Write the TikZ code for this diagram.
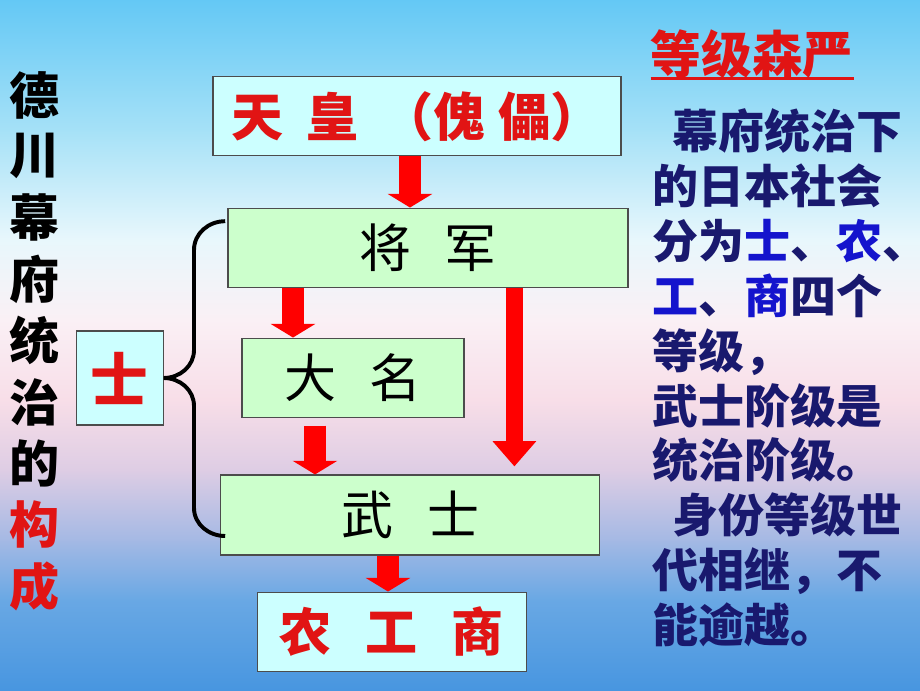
\documentclass[tikz,border=0pt]{standalone}
\usepackage{fontspec}
\newfontfamily\cjk{Noto Sans CJK SC}
\usetikzlibrary{arrows.meta,positioning}

\definecolor{bg0}{RGB}{72,150,224}
\definecolor{bg1}{RGB}{105,168,228}
\definecolor{bg2}{RGB}{165,185,228}
\definecolor{bg3}{RGB}{222,205,228}
\definecolor{bg4}{RGB}{248,222,232}
\definecolor{bg5}{RGB}{250,240,245}
\definecolor{bg6}{RGB}{232,247,252}
\definecolor{bg7}{RGB}{165,225,247}
\definecolor{bg8}{RGB}{100,200,245}
\definecolor{boxcyan}{RGB}{204,255,255}
\definecolor{boxgreen}{RGB}{204,255,204}
\definecolor{titlered}{RGB}{225,20,20}
\definecolor{navy}{RGB}{25,25,110}
\definecolor{accblue}{RGB}{20,20,205}

\begin{document}
\begin{tikzpicture}[
  box/.style={draw=black!70,line width=0.8pt,inner sep=0pt,
    font=\cjk\fontsize{37}{37}\selectfont},
  cyanbox/.style={box,fill=boxcyan},
  greenbox/.style={box,fill=boxgreen},
  redtext/.style={text=titlered,font=\cjk\bfseries\fontsize{37}{37}\selectfont},
  fat/.style={red,line width=0.55cm,-{Triangle[width=1.1cm,length=0.34cm]}},
  brace/.style={line width=2.8pt},
  side/.style={inner sep=0pt,font=\cjk\bfseries\fontsize{35.6}{35.6}\selectfont},
  desc/.style={inner sep=0pt,align=left,text=navy,
    font=\cjk\bfseries\fontsize{32.7}{39.1}\selectfont}]
\useasboundingbox (0,0) rectangle (23,17.25);

% Background
\foreach \ya/\yb/\ca/\cb in {0/2.25/bg0/bg1,2.25/3.75/bg1/bg2,3.75/5.5/bg2/bg3,
  5.5/7.25/bg3/bg4,7.25/9.25/bg4/bg5,9.25/11.25/bg5/bg6,11.25/14/bg6/bg7,14/17.25/bg7/bg8}{
  \shade[bottom color=\ca,top color=\cb] (0,\ya) rectangle (23,\yb+0.02);
}

% Ranks
\node[cyanbox,redtext,minimum width=10.2cm,minimum height=1.975cm] (emperor) at (10.425,14.34)
  {天\hspace{0.45em}皇\hspace{0.45em}（傀\hspace{0.25em}儡）};
\node[greenbox,minimum width=10cm,minimum height=1.975cm] (shogun) at (10.7,11.06)
  {将\hspace{0.65em}军};
\node[greenbox,minimum width=5.55cm,minimum height=1.975cm] (daimyo) at (8.825,7.81)
  {大\hspace{0.65em}名};
\node[greenbox,minimum width=9.475cm,minimum height=2cm] (samurai) at (10.26,4.375)
  {武\hspace{0.65em}士};
\node[cyanbox,redtext,minimum width=6.725cm,minimum height=1.975cm] (commoners) at (9.79,1.46)
  {农\hspace{0.65em}工\hspace{0.65em}商};
\node[cyanbox,redtext,font=\cjk\bfseries\fontsize{41}{41}\selectfont,
  minimum width=2.175cm,minimum height=2.35cm] (shi) at (2.99,7.8) {士};

% Arrows
\draw[fat] (10.25,0 |- emperor.south) -- (10.25,0 |- shogun.north);
\draw[fat] (7.325,0 |- shogun.south) -- (7.325,0 |- daimyo.north);
\draw[fat,shorten <=0.2cm] (7.875,0 |- daimyo.south) -- (7.875,0 |- samurai.north);
\draw[fat,line width=0.43cm,-{Triangle[width=1.05cm,length=0.63cm]},shorten >=0.2cm]
  (12.86,0 |- shogun.south) -- (12.86,0 |- samurai.north);
\draw[fat] (9.7,0 |- samurai.south) -- (9.7,0 |- commoners.north);

% Brace
\draw[brace] (5.63,11.72) to[out=180,in=90] (4.85,11.0) -- (4.85,8.5)
  to[out=-90,in=0] (shi.east) to[out=0,in=90] (4.85,7.1) -- (4.85,4.55)
  to[out=-90,in=180] (5.63,3.85);

% Left title
\foreach \c [count=\i] in {德,川,幕,府,统,治,的}{
  \node[side] (s\i) at (0.875,{14.875-1.535*(\i-1)}) {\c};
}
\node[side,text=titlered] (s8) at (0.875,4.13) {构};
\node[side,text=titlered] (s9) at (0.875,2.595) {成};

% Right text
\node[inner sep=0pt,text=titlered,font=\cjk\bfseries\fontsize{36}{36}\selectfont] (grade)
  at (18.8,15.9) {等级森严};
\draw[titlered,line width=2pt] (grade.south west) -- (grade.south east);
\node[desc,anchor=north west] (desc) at (16.3,14.55)
  {\hspace{0.45em}幕府统治下\\
   的日本社会\\
   分为\textcolor{accblue}{士}、\textcolor{accblue}{农}、\\
   \textcolor{accblue}{工}、\textcolor{accblue}{商}四个\\
   等级，\\
   武士阶级是\\
   统治阶级。\\
   \hspace{0.45em}身份等级世\\
   代相继，不\\
   能逾越。};
\end{tikzpicture}
\end{document}
